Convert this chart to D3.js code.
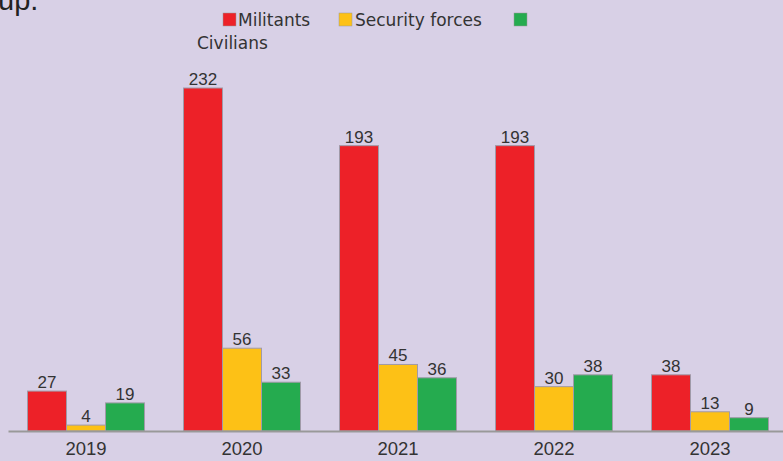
<!DOCTYPE html>
<html lang="en">
  <head>
    <meta charset="utf-8" />
    <title>Casualties by year</title>
    <script src="https://cdnjs.cloudflare.com/ajax/libs/d3/7.8.5/d3.min.js"></script>
    <style type="text/css">
      body { margin: 0; background: #d8d0e6; }
      svg { display: block; font-family: "Liberation Sans", Arial, sans-serif; }
      .val { font-size: 17px; fill: #333; text-anchor: middle; }
      .tick text { font-size: 18.5px; fill: #333; font-family: "Liberation Sans", Arial, sans-serif; }
      .legend text { font-size: 17px; fill: #333; font-family: "DejaVu Sans", sans-serif; }
    </style>
  </head>
  <body>
    <div id="chart"></div>
    <script>
      const years = ["2019", "2020", "2021", "2022", "2023"];
      const seriesNames = ["Militants", "Security forces", "Civilians"];
      const colors = ["#ed2128", "#fdc116", "#25ab4f"];
      const militants = [27, 232, 193, 193, 38];
      const security = [4, 56, 45, 30, 13];
      const civilians = [19, 33, 36, 38, 9];

      const width = 783;
      const height = 461;
      const baseY = 431;

      const svg = d3
        .select("#chart")
        .append("svg")
        .attr("width", width)
        .attr("height", height);

      svg.append("rect").attr("width", width).attr("height", height).attr("fill", "#d8d0e6");

      // leftover text from the article above the chart (cut at the top, as in the source)
      svg.append("text")
        .attr("x", -2).attr("y", 10)
        .attr("font-size", 29).attr("fill", "#222")
        .text("up.");

      const x0 = d3.scaleBand().domain(years).range([8, 788]).paddingInner(0.25).paddingOuter(0.125);
      const x1 = d3.scaleBand().domain(seriesNames).range([0, x0.bandwidth()]);
      const y = d3.scaleLinear().domain([0, 232]).range([baseY, 88]);

      const rows = years.map((yr, i) => ({
        year: yr,
        vals: [militants[i], security[i], civilians[i]],
      }));

      const groups = svg.selectAll("g.grp")
        .data(rows)
        .join("g")
        .attr("class", "grp")
        .attr("transform", (d) => `translate(${x0(d.year)},0)`);

      groups.selectAll("rect")
        .data((d) => d.vals.map((v, k) => ({ k, v })))
        .join("rect")
        .attr("x", (d) => x1(seriesNames[d.k]))
        .attr("y", (d) => y(d.v))
        .attr("width", x1.bandwidth())
        .attr("height", (d) => baseY - y(d.v))
        .attr("fill", (d) => colors[d.k])
        .attr("stroke", "#a09aa8")
        .attr("stroke-width", 1);

      groups.selectAll("text.val")
        .data((d) => d.vals.map((v, k) => ({ k, v })))
        .join("text")
        .attr("class", "val")
        .attr("x", (d) => x1(seriesNames[d.k]) + x1.bandwidth() / 2)
        .attr("y", (d) => y(d.v) - 3)
        .text((d) => d.v);

      // x axis
      const xAxis = d3.axisBottom(x0).tickSize(0).tickPadding(11);
      const ax = svg.append("g").attr("transform", `translate(0,${baseY})`).call(xAxis);
      ax.select(".domain").attr("stroke", "#999").attr("stroke-width", 2);

      // legend
      const legend = svg.append("g").attr("class", "legend");
      const legendBoxes = [223, 339, 514];
      legendBoxes.forEach((bx, i) => {
        legend.append("rect")
          .attr("x", bx).attr("y", 13)
          .attr("width", 13).attr("height", 13)
          .attr("fill", colors[i]).attr("stroke", "#999").attr("stroke-width", 0.5);
      });
      legend.append("text").attr("x", 238).attr("y", 26).text(seriesNames[0]);
      legend.append("text").attr("x", 355).attr("y", 26).text(seriesNames[1]);
      legend.append("text").attr("x", 197).attr("y", 49).text(seriesNames[2]);
    </script>
  </body>
</html>
